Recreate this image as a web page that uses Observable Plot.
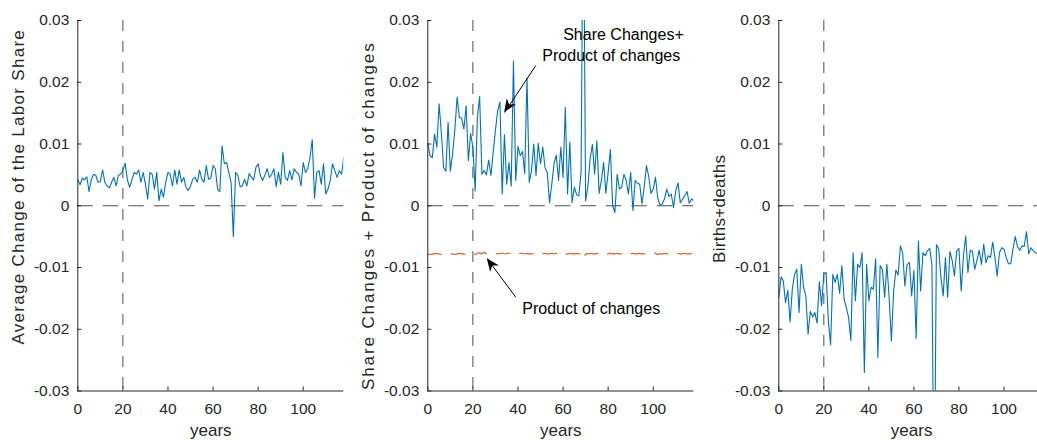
<!DOCTYPE html>
<html><head><meta charset="utf-8">
<script src="https://cdn.jsdelivr.net/npm/d3@7"></script>
<script src="https://cdn.jsdelivr.net/npm/@observablehq/plot@0.6"></script>
<style>
body{margin:0;background:#fff;}
#wrap{position:relative;width:1037px;height:440px;overflow:hidden;font-family:"Liberation Sans",Arial,Helvetica,sans-serif;}
#wrap svg{position:absolute;top:0;overflow:visible;}
</style></head><body><div id="wrap"></div>
<script>
// ---- data ----
const laborShare = [
 .0042,.0034,.0045,.0042,.0047,.0023,.0043,.0051,.0049,.0038,
 .0039,.0058,.0038,.0032,.0029,.0038,.0046,.0032,.0049,.0051,
 .0057,.0069,.0042,.0030,.0042,.0054,.0051,.0058,.0038,.0054,
 .0035,.0011,.0054,.0051,.0027,.0054,.0008,.0027,.0014,.0038,
 .0054,.0051,.0032,.0058,.0035,.0058,.0038,.0046,.0030,.0025,
 .0032,.0043,.0046,.0038,.0058,.0043,.0038,.0065,.0043,.0045,
 .0065,.0060,.0027,.0023,.0097,.0068,.0070,.0054,.0038,-.0050,
 .0054,.0049,.0031,.0032,.0043,.0032,.0052,.0046,.0042,.0062,
 .0068,.0049,.0041,.0050,.0060,.0046,.0051,.0060,.0031,.0054,
 .0035,.0086,.0046,.0041,.0057,.0042,.0060,.0054,.0051,.0032,
 .0070,.0054,.0060,.0078,.0107,.0012,.0054,.0057,.0035,.0068,
 .0019,.0027,.0041,.0068,.0057,.0046,.0057,.0051,.0079];
const shareProduct = [
 .0101,.0081,.0078,.0116,.0095,.0165,.0119,.0062,.0056,.0135,
 .0056,.0084,.0123,.0176,.0143,.0142,.0124,.0162,.0073,.0117,
 .0095,.0024,.0143,.0177,.0051,.0057,.0050,.0074,.0049,.0086,
 .0122,.0154,.0168,.0019,.0115,.0035,.0070,.0032,.0234,.0041,
 .0096,.0081,.0088,.0052,.0207,.0038,.0057,.0100,.0049,.0101,
 .0068,.0095,.0062,.0054,.0005,.0035,.0068,.0082,.0041,.0095,
 .0046,.0159,.0019,.0103,.0005,.0030,.0018,.0016,.0054,.0560,
 .0008,.0031,.0076,.0099,.0051,.0105,.0020,.0041,.0070,.0020,
 .0054,.0091,.0000,-.0011,.0051,.0027,.0030,.0051,.0041,.0019,
 .0054,-.0008,.0041,.0036,.0035,.0003,.0030,.0065,.0047,.0020,
 .0027,.0046,.0013,.0001,.0003,.0011,.0027,.0015,.0019,-.0003,
 .0024,.0037,.0005,.0011,.0016,.0023,.0004,.0011,.0008];
const productChanges = [
 -.0078,-.0079,-.0078,-.0078,-.0077,-.0078,-.0079,-.0078,-.0078,-.0077,
 -.0078,-.0078,-.0079,-.0078,-.0077,-.0078,-.0078,-.0079,-.0078,-.0078,
 -.0078,-.0079,-.0077,-.0076,-.0078,-.0075,-.0078,-.0077,-.0077,-.0078,
 -.0077,-.0078,-.0077,-.0077,-.0078,-.0077,-.0077,-.0078,-.0077,-.0077,
 -.0078,-.0077,-.0077,-.0078,-.0077,-.0078,-.0078,-.0077,-.0077,-.0078,
 -.0077,-.0078,-.0077,-.0078,-.0078,-.0077,-.0078,-.0077,-.0078,-.0078,
 -.0077,-.0078,-.0078,-.0077,-.0078,-.0078,-.0077,-.0078,-.0079,-.0086,
 -.0078,-.0078,-.0077,-.0078,-.0078,-.0077,-.0078,-.0078,-.0077,-.0078,
 -.0078,-.0077,-.0078,-.0078,-.0077,-.0078,-.0078,-.0078,-.0077,-.0078,
 -.0078,-.0077,-.0078,-.0078,-.0077,-.0078,-.0078,-.0077,-.0078,-.0077,
 -.0076,-.0077,-.0079,-.0078,-.0078,-.0077,-.0078,-.0078,-.0077,-.0078,
 -.0078,-.0077,-.0078,-.0078,-.0077,-.0078,-.0078,-.0077,-.0078];
const birthsDeaths = [
 -.0149,-.0115,-.0122,-.0157,-.0137,-.0188,-.0135,-.0111,-.0103,-.0173,
 -.0095,-.0132,-.0146,-.0208,-.0171,-.0180,-.0173,-.0190,-.0123,-.0162,
 -.0110,-.0108,-.0186,-.0225,-.0111,-.0124,-.0111,-.0142,-.0097,-.0151,
 -.0165,-.0181,-.0218,-.0076,-.0154,-.0095,-.0100,-.0076,-.0270,-.0095,
 -.0154,-.0132,-.0135,-.0086,-.0246,-.0097,-.0103,-.0148,-.0095,-.0149,
 -.0219,-.0138,-.0104,-.0112,-.0065,-.0076,-.0130,-.0095,-.0092,-.0146,
 -.0105,-.0215,-.0057,-.0138,-.0076,-.0081,-.0073,-.0069,-.0095,-.0530,
 -.0063,-.0070,-.0116,-.0146,-.0084,-.0148,-.0074,-.0089,-.0114,-.0073,
 -.0069,-.0138,-.0081,-.0049,-.0108,-.0072,-.0074,-.0103,-.0088,-.0072,
 -.0095,-.0062,-.0092,-.0081,-.0084,-.0059,-.0084,-.0114,-.0076,-.0068,
 -.0070,-.0084,-.0094,-.0094,-.0070,-.0050,-.0066,-.0072,-.0065,-.0066,
 -.0042,-.0078,-.0068,-.0073,-.0076,-.0077];
const yTicks = [-0.03,-0.02,-0.01,0,0.01,0.02,0.03];
const xTicks = [0,20,40,60,80,100];
const yLabels = ["Average Change of the Labor Share","Share Changes + Product of changes","Births+deaths"];
const xLabel = "years";
const refYear = 20;
// annotations (panel 2), data coordinates
const annoText = ["Share Changes+","Product of changes","Product of changes"];
const annoX = [86.8, 81.4, 72.5];
const annoY = [0.0269, 0.0235, -0.0176];
const arrowFromX = [47.9, 39.0];
const arrowFromY = [0.0227, -0.0148];
const arrowToX = [34.1, 26.4];
const arrowToY = [0.0151, -0.0086];

// ---- drawing ----
const BLUE = "#0072BD", ORANGE = "#D95319", AXIS = "#262626", REF = "#4d4d4d";
const wrap = document.getElementById("wrap");

function panel({series, xmax, ylabel, labelDy, labelSpacing, left, width, marginRight, extra = [], heads = null}) {
  const X0 = 0, YMIN = -0.03, YMAX = 0.03;
  const toRows = s => s.map((v, i) => ({year: i, v}));
  const tickLenX = 4 / 2.25, tickLenY = 4 / 6167;
  const marks = [
    Plot.ruleX([refYear], {stroke: REF, strokeWidth: 1, strokeDasharray: "11,10"}),
    Plot.ruleY([0], {stroke: REF, strokeWidth: 1, strokeDasharray: "15.5,10"}),
    ...series.map(s => Plot.lineY(toRows(s.values), {x: "year", y: "v", stroke: s.color, strokeWidth: 1.1, strokeDasharray: s.dash, clip: true})),
    Plot.ruleX([X0], {y1: YMIN, y2: YMAX, stroke: AXIS, strokeWidth: 1}),
    Plot.ruleY([YMIN], {x1: X0, x2: xmax, stroke: AXIS, strokeWidth: 1}),
    Plot.ruleY(yTicks, {x1: X0, x2: X0 + tickLenX, stroke: AXIS, strokeWidth: 1}),
    Plot.ruleX(xTicks, {y1: YMIN, y2: YMIN + tickLenY, stroke: AXIS, strokeWidth: 1}),
    Plot.axisY({ticks: yTicks, tickSize: 0, tickPadding: 8.5, fontSize: 15.5, tickFormat: d => d === 0 ? "0" : d.toFixed(2), label: null}),
    Plot.axisX({ticks: xTicks, tickSize: 0, tickPadding: 12, fontSize: 15.5, tickFormat: d => String(d), label: null}),
    Plot.text([ylabel], {frameAnchor: "left", dx: -59, dy: labelDy, rotate: -90, fontSize: 17, textAnchor: "middle", lineAnchor: "middle", fill: AXIS}),
    Plot.text([xLabel], {frameAnchor: "bottom", dy: 44.5, fontSize: 17, textAnchor: "middle", lineAnchor: "bottom", fill: AXIS}),
    ...extra
  ];
  const svg = Plot.plot({
    width, height: 440,
    marginLeft: 77.3, marginRight, marginTop: 20, marginBottom: 49.5,
    x: {domain: [0, xmax]},
    y: {domain: [YMIN, YMAX]},
    style: {color: AXIS, fontFamily: '"Liberation Sans", Arial, Helvetica, sans-serif', background: "transparent", overflow: "visible"},
    marks
  });
  svg.style.left = left + "px";
  d3.select(svg).selectAll("text").filter(function () { return this.textContent === ylabel; })
    .attr("letter-spacing", labelSpacing);
  if (heads) {
    const sx = svg.scale("x"), sy = svg.scale("y");
    const fx = sx.apply ? sx.apply : d3.scaleLinear(sx.domain, sx.range);
    const fy = sy.apply ? sy.apply : d3.scaleLinear(sy.domain, sy.range);
    const g = d3.select(svg).append("g");
    heads.fromX.forEach((_, i) => {
      const ax = fx(heads.fromX[i]), ay = fy(heads.fromY[i]);
      const bx = fx(heads.toX[i]), by = fy(heads.toY[i]);
      const dx = bx - ax, dy = by - ay, L = Math.hypot(dx, dy);
      const ux = dx / L, uy = dy / L, px = -uy, py = ux;
      const len = 13, w = 5.5, notch = 9;
      const pts = [[bx, by],
        [bx - ux * len + px * w, by - uy * len + py * w],
        [bx - ux * notch, by - uy * notch],
        [bx - ux * len - px * w, by - uy * len - py * w]];
      g.append("polygon").attr("points", pts.map(p => p.join(",")).join(" ")).attr("fill", "#000");
    });
  }
  wrap.appendChild(svg);
}

panel({series: [{values: laborShare, color: BLUE}], xmax: 118, ylabel: yLabels[0], labelDy: -19, labelSpacing: 1.3, left: 0, width: 346, marginRight: 2.7});

const annoRows = annoText.map((t, i) => ({t, x: annoX[i], y: annoY[i]}));
const arrowRows = arrowFromX.map((_, i) => ({x1: arrowFromX[i], y1: arrowFromY[i], x2: arrowToX[i], y2: arrowToY[i]}));
panel({
  series: [{values: shareProduct, color: BLUE}, {values: productChanges, color: ORANGE, dash: "14,10"}],
  xmax: 118, ylabel: yLabels[1], labelDy: 10, labelSpacing: 1.9, left: 350, width: 346, marginRight: 2.7,
  extra: [
    Plot.link(arrowRows, {x1: "x1", y1: "y1", x2: "x2", y2: "y2", stroke: "#000", strokeWidth: 1}),
    Plot.text(annoRows, {x: "x", y: "y", text: "t", fontSize: 16, textAnchor: "middle", lineAnchor: "bottom", fill: "#000"})
  ],
  heads: {fromX: arrowFromX, fromY: arrowFromY, toX: arrowToX, toY: arrowToY}
});

panel({series: [{values: birthsDeaths, color: BLUE}], xmax: 118, ylabel: yLabels[2], labelDy: 3, labelSpacing: 0.3, left: 701, width: 343, marginRight: 0});
</script>
</body></html>
